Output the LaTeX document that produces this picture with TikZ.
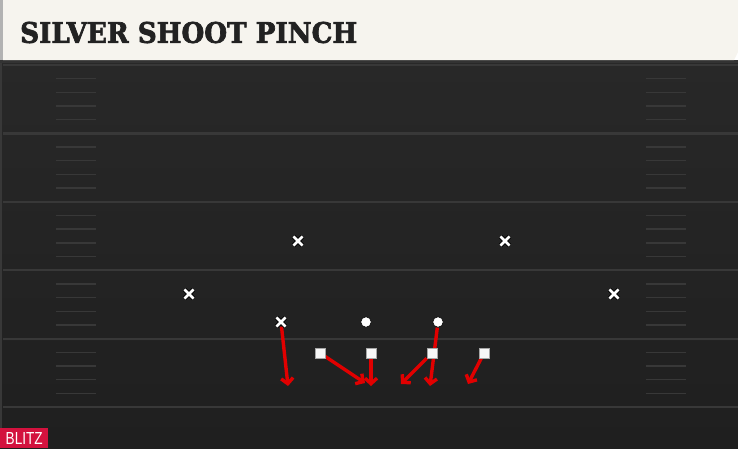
\documentclass[tikz,border=0pt]{standalone}
\usepackage{fontspec}
\usepackage{graphicx}
\usepackage{xcolor}
\usepackage{tikz}
\usetikzlibrary{arrows.meta,shapes.misc}
\newfontfamily\slabfont{DejaVu Serif}[BoldFeatures={FakeBold=2.5}]
\newfontfamily\tagfont{Liberation Sans}
\newcommand{\playtitle}[1]{\resizebox{337pt}{21pt}{\slabfont\bfseries #1}}
\newcommand{\tagtext}[1]{\resizebox{37pt}{12pt}{\tagfont #1}}
\definecolor{turf}{HTML}{282828}
\definecolor{turfdark}{HTML}{1F1F1F}
\definecolor{chalk}{HTML}{383838}
\definecolor{banner}{HTML}{F6F4EE}
\definecolor{ink}{HTML}{222222}
\definecolor{blitzred}{HTML}{D3123E}
\definecolor{route}{HTML}{E10000}
\tikzset{
    defx/.style={cross out, draw=white, line width=2.6pt, minimum size=6.5pt,
        inner sep=0pt, preaction={draw=black, line width=4.4pt}},
    backer/.style={circle, fill=white, draw=black, line width=0.6pt,
        minimum size=10.5pt, inner sep=0pt},
    lineman/.style={rectangle, fill=white!94!gray, draw=gray!70, line width=0.6pt,
        minimum size=10pt, inner sep=0pt},
    rush/.style={draw=route, line width=3.4pt, -{Straight Barb[length=5.5pt,width=12pt]}}
}
\pgfdeclarelayer{routes}
\pgfsetlayers{routes,main}
\begin{document}
\begin{tikzpicture}[x=1pt,y=-1pt]
        \useasboundingbox (0,0) rectangle (738,448);

        % field and banner
        \begin{pgfonlayer}{routes}
        \shade[top color=turf, bottom color=turfdark] (0,60) rectangle (738,448);
        \fill[chalk] (0,60) rectangle (2,448);
        \fill[black!80] (0,60) rectangle (738,63);
        \fill[banner] (3,0) -- (738,0) -- (738,52) -- (734,60) -- (3,60) -- cycle;
        \fill[gray!60] (0,0) rectangle (3,60);

        % yard lines and hashes
        \foreach \k in {0,...,5}
            \draw[chalk, line width=2.2pt] (3,65+68.4*\k) -- (738,65+68.4*\k);
        \foreach \k in {0,...,4}
            \foreach \j in {1,...,4} {
                \draw[chalk, line width=1.4pt] (56,65+68.4*\k+13.68*\j) -- (96,65+68.4*\k+13.68*\j);
                \draw[chalk, line width=1.4pt] (646,65+68.4*\k+13.68*\j) -- (686,65+68.4*\k+13.68*\j);
            }
        \end{pgfonlayer}

        % title and tag
        \draw (20,32.5) node[anchor=west, inner sep=0pt, text=ink] (title) {\playtitle{SILVER SHOOT PINCH}};
        \draw (0,428) node[anchor=north west, fill=blitzred, minimum width=48pt,
            minimum height=20pt, inner sep=0pt, text=white] (tag) {\tagtext{BLITZ}};

        % defenders
        \draw (298,241) node[defx] (lilb) {};
        \draw (505,241) node[defx] (rilb) {};
        \draw (189,294) node[defx] (lcb) {};
        \draw (614,294) node[defx] (rcb) {};
        \draw (281,322) node[defx] (nick) {};

        % backs and line
        \draw (366,322) node[backer] (qb) {};
        \draw (438,322) node[backer] (rb) {};
        \draw (320,353) node[lineman] (lt) {};
        \draw (371,353) node[lineman] (lg) {};
        \draw (432,353) node[lineman] (rg) {};
        \draw (484,353) node[lineman] (rt) {};

        % where the rushes end
        \coordinate (nickend) at (288,386);
        \coordinate (ltend) at (365,383);
        \coordinate (lgend) at (371,386);
        \coordinate (rgend) at (401,384);
        \coordinate (rbend) at (430,386);
        \coordinate (rtend) at (468,384);

        % red rushes
        \begin{pgfonlayer}{routes}
        \draw[rush] (nick) -- (nickend);
        \draw[rush] (lt) -- (ltend);
        \draw[rush] (lg) -- (lgend);
        \draw[rush] (rg) -- (rgend);
        \draw[rush] (rb) -- (rbend);
        \draw[rush] (rt) -- (rtend);
        \end{pgfonlayer}

    \end{tikzpicture}
\end{document}
